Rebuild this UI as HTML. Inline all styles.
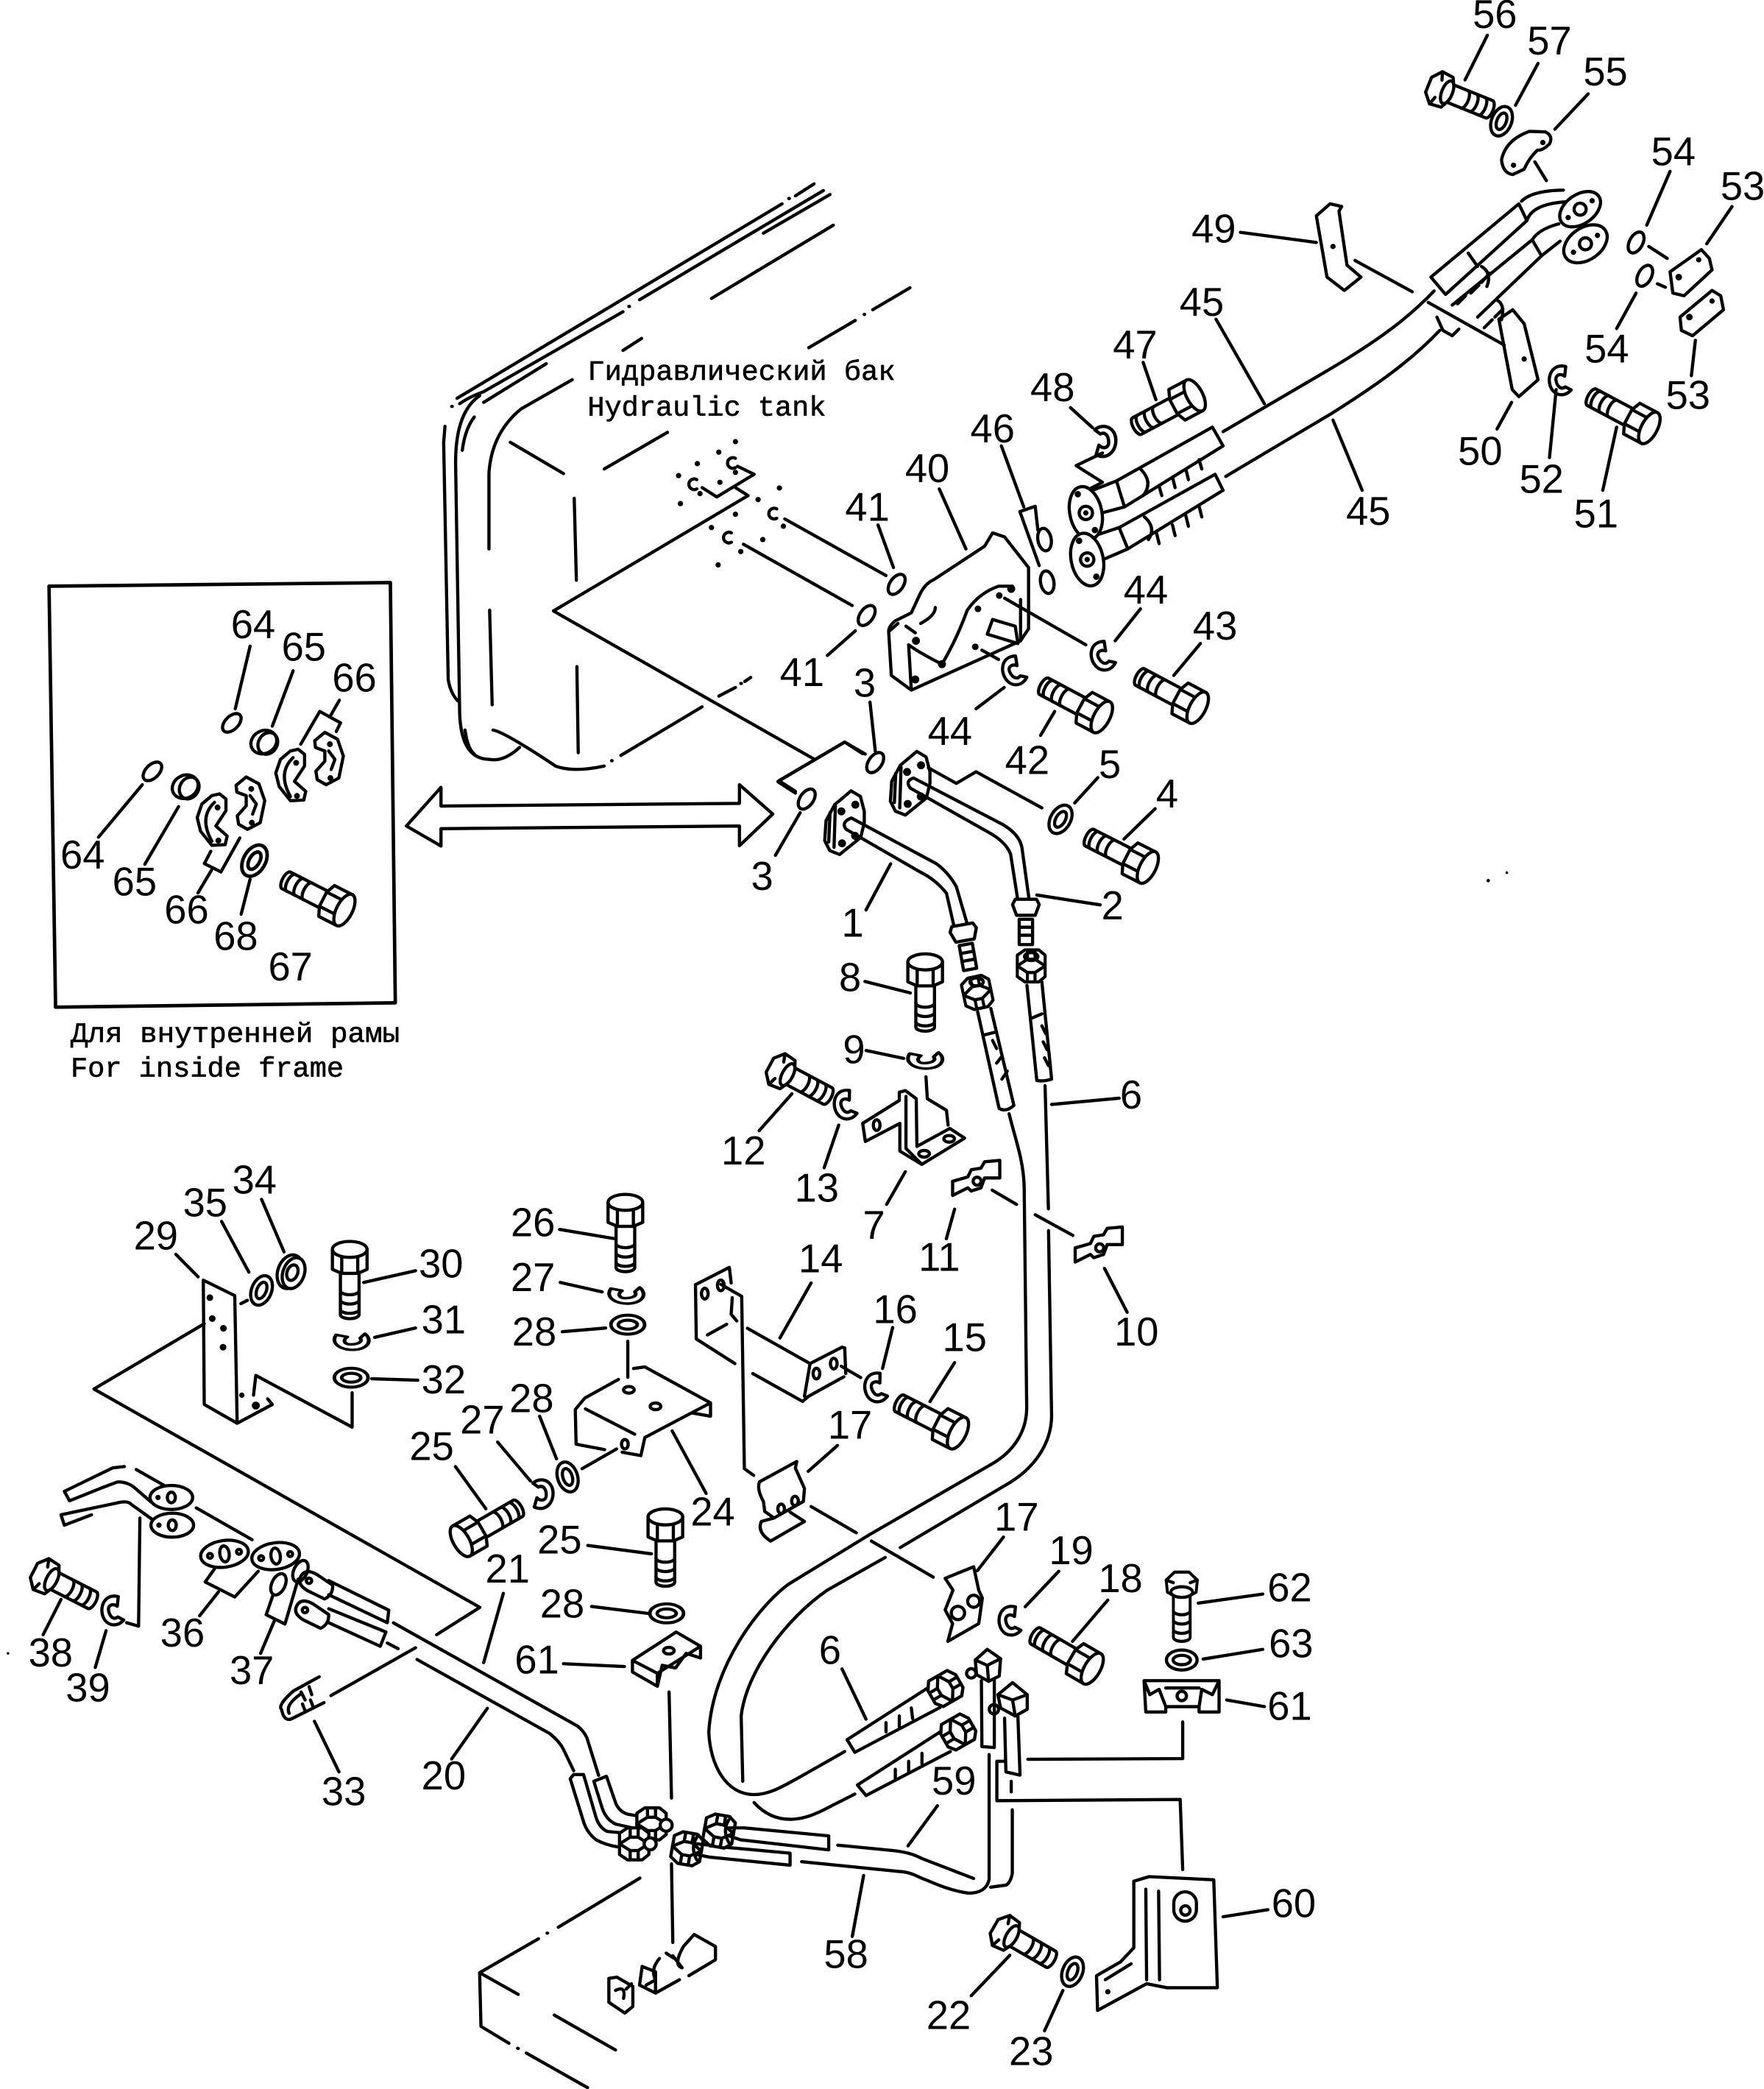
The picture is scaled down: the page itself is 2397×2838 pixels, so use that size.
<!DOCTYPE html>
<html><head><meta charset="utf-8"><title>Hydraulic piping diagram</title>
<style>
html,body{margin:0;padding:0;background:#fff}
svg{display:block}
.l{fill:none;stroke:#000;stroke-width:2.4;stroke-linecap:round;stroke-linejoin:round}
.w{fill:#fff;stroke:#000;stroke-width:2.4;stroke-linejoin:round}
.d{fill:#000;stroke:none}
.n text{font-family:"Liberation Sans",sans-serif;font-size:30px;text-anchor:middle;fill:#000}
.m text{font-family:"Liberation Mono","DejaVu Sans Mono",monospace;font-size:21px;fill:#000;stroke:#000;stroke-width:.35}
</style></head><body>
<svg xmlns="http://www.w3.org/2000/svg" width="2397" height="2838" viewBox="0 0 1324 1568" preserveAspectRatio="none">
<rect width="1324" height="1568" fill="#fff"/>
<defs>
<g id="b"><path class="w" d="M4,-7L40,-7A3,7 0 0 1 40,7L4,7Z"/><path class="l" d="M22,-7a3,7 0 0 1 0,14M29,-7a3,7 0 0 1 0,14M36,-7a3,7 0 0 1 0,14"/><path class="w" d="M-9,-13L6,-13L9,-6L9,6L6,13L-9,13Z"/><path class="l" d="M-6,-6L9,-6M-6,6L9,6"/><ellipse class="w" cx="-9" cy="0" rx="6" ry="13"/></g>
<g id="c"><path class="w" d="M4,-7L40,-7A3,7 0 0 1 40,7L4,7Z"/><path class="l" d="M20,-7a3,7 0 0 1 0,14M27,-7a3,7 0 0 1 0,14M34,-7a3,7 0 0 1 0,14"/><path class="w" d="M-9,-6L-3,-13L6,-12L9,-6L9,6L6,12L-3,13L-9,6Z"/><path class="l" d="M-3,-13L-1,-7M-3,13L-1,7"/><ellipse class="w" cx="6" cy="0" rx="4" ry="9"/></g>
<g id="w"><ellipse class="l" rx="7.5" ry="11.5"/><ellipse class="l" rx="3.5" ry="6.5"/></g>
<g id="o"><ellipse class="l" rx="5" ry="8.5" stroke-width="2.8"/></g>
<g id="k"><path class="l" d="M6,-10C-3,-14 -9,-6 -8,2C-7,10 1,13 7,8L3,5C-1,7 -3,3 -3,-1C-3,-5 1,-6 4,-3Z"/></g>
<g id="nut"><path class="w" d="M-11,-8L-5,-12L6,-12L11,-8L11,8L6,12L-5,12L-11,8Z"/><path class="l" d="M-11,0L-3,-5L3,-5L11,0M-3,-12L-3,-5M3,-12L3,-5M-3,12L-3,5M3,12L3,5M-11,0L-3,5L3,5L11,0"/></g>
<g id="fl"><path class="w" d="M620,616L626.5,604L638.8,593.6L645.8,597.8L648.7,609L648.7,617.5L646,628.6L630.2,641.4L622.8,638.5L619,631Z"/><path class="l" d="M623,610L622,632M627,605L626,636"/><circle class="d" cx="631.5" cy="609" r="3"/><circle class="d" cx="642" cy="604" r="3"/><circle class="d" cx="632" cy="633" r="3"/><circle class="d" cx="641.8" cy="627.4" r="3"/></g>
<g id="clip"><path class="l" d="M715,897.3L715,886.7L726.4,883.4L729,878L736.3,876.8L739,872L750.4,871L750.4,884.2L739,884.2L736.3,891.6L729,894L726.4,891.6Z"/><circle class="l" cx="733.4" cy="886.6" r="3"/></g>
<g id="half"><path class="l" d="M223.8,562.4L228.6,566.2L228.6,575L221,586.5L229.5,594L228,600.5L218,601L209.5,590.3L207,580.2L210.5,570L218,563.7Z"/><path class="l" d="M220,568.7Q208,580 218,597.9"/><circle class="d" cx="222.3" cy="572.6" r="2.2"/><circle class="d" cx="222.9" cy="597.4" r="2.2"/>
<path class="l" d="M236.2,556L243.8,549.7L253.3,554.8L257.7,567.5L254.3,584L244.8,589L238.1,585.2L237.1,578.9L243.8,571.3L243.8,563.7L236.8,561.1Z"/><path class="l" d="M246.7,563.7L251.4,570L248.6,577.6"/><circle class="d" cx="247.6" cy="558.6" r="2.2"/><circle class="d" cx="248" cy="584" r="2.2"/>
<g transform="translate(-13,1)"><ellipse class="w" cx="211" cy="556" rx="10" ry="8.5" transform="rotate(-28 211 556)"/><ellipse class="l" cx="214" cy="557" rx="7" ry="8.5" transform="rotate(30 214 557)"/></g></g>
</defs>

<!-- tank -->
<path class="l" d="M343,299L587,153M597,147L611,138M592,149L592.5,149M339,305L339.5,305
M334,320L333,332L336.4,510Q338,520 343.5,526
M347,338Q349,322 356,313M363,294L467.6,234M472,230L472.5,230M480,225L618,143M345,303Q352,298 363,294
M342,351Q341,310 360,297M363,302L410,273M467.6,263L481.6,254M573,175L623,146
M367,412L367,355Q369,325 391,307L429.5,285M453.5,352L501,324.5M534,224L625.5,169M607,261L642,240.5M648.6,236L649,236M655,232.5L683,216
M342,351L345,535Q346,570 367.5,570Q378,572 390,561
M349,548Q351,562 356,566
M370,548Q378,549 417,575Q430,580 453.5,575M459,571L459.5,571M466,567L527,530.5M539.5,522.5L552,516M556,513L556.5,513M559,511.5L563.5,508.5
M367.5,458L369.4,529M431,374L432.6,435.5M433,500.4L434,565M383,332L423,355.5"/>
<path class="l" d="M527,366L538,373L566,356L553.6,350M415.4,458.6L561.5,372L552,366M415.4,458.6L611.4,570M584.6,586L634,557L649.4,566M584.6,586L597,594M589,389.5L665,432M558,408.5L639.6,454.5"/>
<g class="d">
<circle cx="552" cy="331.5" r="2"/><circle cx="539.5" cy="339.4" r="2"/><circle cx="523.4" cy="348" r="2"/><circle cx="509.3" cy="357" r="2"/><circle cx="510.7" cy="378" r="2"/><circle cx="540.3" cy="362" r="2"/><circle cx="552" cy="354.6" r="2"/><circle cx="525.4" cy="370.5" r="2"/><circle cx="585" cy="366.3" r="2"/><circle cx="569" cy="375" r="2"/><circle cx="588" cy="395" r="2"/><circle cx="552" cy="386" r="2"/><circle cx="534" cy="396" r="2"/><circle cx="556" cy="414" r="2"/><circle cx="572.5" cy="405" r="2"/><circle cx="539" cy="424" r="2"/></g>
<path class="l" d="M552,344a4,4 0 1 0 0,7M523,360a4,4 0 1 0 0,7M583,382a4,4 0 1 0 0,7M549,400a4,4 0 1 0 0,7"/>
<use href="#o" transform="translate(673,438.6) rotate(35)"/><use href="#o" transform="translate(650.5,462) rotate(35)"/>
<use href="#o" transform="translate(656.9,572.4) rotate(35)"/><use href="#o" transform="translate(605.5,599.8) rotate(35)"/>

<!-- manifold 40 -->
<path class="l" d="M667,474Q667,470 672,466L684,460L690,447Q694,438 701,435L739,410L745,400L754,403L772,426L772,472L766,481L684,518L669,507Z"/>
<path class="l" d="M667,474L674,468M682,484L684,518M682,484Q690,490 707,498.5Q718,480 726,458Q735,445 749.5,440L760,440M691,468Q702,462 702,456M680,470L687,475M741,476L764,483L762,470L745,465ZM766,450L766,480M754,449L815,484M737,488L749.5,495"/>
<g class="d"><circle cx="687.5" cy="481" r="3"/><circle cx="687" cy="510" r="3"/><circle cx="707" cy="498.5" r="3"/><circle cx="732" cy="485.5" r="2.5"/><circle cx="734" cy="457" r="2.5"/><circle cx="750" cy="447" r="2.5"/><circle cx="759" cy="442" r="3"/></g>

<!-- hoses 45 -->
<path class="l" d="M838,361L910,320.6L918,334.7L844,380.5Z M840,396L912,356L918,368L846.5,412Z"/>
<path class="l" d="M820,368L838,361M827,385L844,380.5M822,402L840,396M828,420L846.5,412M856,352Q866,362 858,372M859,388Q868,396 862,405M870,365L872,372M880,358L882,366M890,352L892,360M900,345L902,352M868,400L870,408M880,394L882,402M890,387L892,395M900,380L902,388"/>
<g transform="translate(815,385) rotate(-12)"><ellipse class="w" rx="12" ry="20"/><circle class="l" r="5"/><circle class="d" r="2"/><circle class="d" cx="-3" cy="-15" r="2.4"/><circle class="d" cx="4" cy="14" r="2.4"/></g>
<g transform="translate(816,420) rotate(-12)"><ellipse class="w" rx="12" ry="20"/><circle class="l" r="5"/><circle class="d" r="2"/><circle class="d" cx="-3" cy="-15" r="2.4"/><circle class="d" cx="4" cy="14" r="2.4"/></g>
<path class="l" d="M918,324L1000,276C1030,258 1055,241 1076.4,218.4M920,357.6L1000,310C1030,291 1058,272 1080.6,248"/>
<path class="l" d="M1074,208L1140,153L1146,165.6L1085,221ZM1090,229L1150,180M1157,192L1109,238M1150,180L1157,192"/>
<path class="l" d="M1142,151Q1150,143 1173.4,142.7M1146,165.6Q1150,153 1175.5,151.5M1150,180Q1155,172 1170,168M1157,192L1171,181M1102,190L1109,200M1112,200Q1120,205 1116,215M1123,225Q1130,228 1127,240"/>
<path class="l" d="M1118,205L1112,212M1110,214L1104,220M1100,222L1094,228M1128,232L1122,238M1120,240L1114,246"/>
<g transform="translate(1186,157) rotate(-35)"><ellipse class="w" rx="17" ry="11"/><circle class="l" r="4.5"/><circle class="d" cx="-11" cy="0" r="2"/><circle class="d" cx="11" cy="0" r="2"/></g>
<g transform="translate(1190,183) rotate(-35)"><ellipse class="w" rx="18" ry="12"/><circle class="l" r="4.5"/><circle class="d" cx="-11" cy="0" r="2"/><circle class="d" cx="11" cy="0" r="2"/></g>
<!-- clamps 49/50 55 53 -->
<path class="l" d="M988,162L996,208L1009,218L1021.5,208L1011,199L1005,158.5L1007,155L998.3,153ZM1125,239.6L1135.4,232.5L1144,243L1154.4,285L1140,297.7L1135,292.4ZM1127,120Q1130,105 1148,98.6L1160,99Q1166,102 1163,108Q1158,113 1154,112.7Q1148,118 1144,127L1135.4,131Q1128,130 1127,120ZM1253.5,204L1277,187.4L1283,194L1285,202.6L1264,222L1255.6,220ZM1261,238L1285,218L1291.5,222L1293.6,232.5L1270.4,252L1262,248ZM1078.5,238L1083,248L1090,252L1095,247"/>
<g class="d"><circle cx="1000.5" cy="185" r="2"/><circle cx="1144" cy="269.5" r="2"/><circle cx="1136" cy="124" r="2"/><circle cx="1158" cy="107" r="2"/><circle cx="1260" cy="208" r="2.5"/><circle cx="1275" cy="195" r="2"/><circle cx="1268" cy="238" r="2.5"/><circle cx="1285" cy="226" r="2"/></g>
<use href="#o" transform="translate(1228,182) rotate(28)"/><use href="#o" transform="translate(1234.5,207) rotate(28)"/>
<use href="#w" transform="translate(1127,91) rotate(22)"/><use href="#k" transform="translate(829,331) scale(1.05) rotate(180)"/><use href="#k" transform="translate(827.5,493) rotate(-25)"/><use href="#k" transform="translate(761,504) rotate(-25)"/><use href="#k" transform="translate(1171,286) rotate(-10)"/>
<use href="#c" transform="translate(1080.6,67) rotate(22)"/><use href="#b" transform="translate(888.7,301) rotate(152)"/><use href="#b" transform="translate(1230,317) rotate(208)"/><use href="#b" transform="translate(891,527) rotate(208)"/><use href="#b" transform="translate(819,534) rotate(208)"/><use href="#b" transform="translate(853.5,647) rotate(207)"/>
<path class="l" d="M765.5,384L780,424.5M765.5,384L777,380L779,398M827.5,340L807.7,349.5L827.5,362L819,366.4"/>
<use href="#o" transform="translate(784,405) rotate(-10)"/><use href="#o" transform="translate(786,437) rotate(-10)"/>

<!-- leaders top right -->
<path class="l" d="M1116.4,26.4L1099.6,60M1154.4,47.6L1137.5,79M1192,70.5L1167,97M1152,121.5L1160.7,135.6M1253.5,128.6L1236,169M1300,155L1281,183M1237.5,185L1251.4,194M1244,213L1250,215.6M1228,220L1213.4,246.6M1272.5,255.4L1269.5,282M1134.6,302L1123.6,322M1168,292.4L1163,343.5M1213.4,320.6L1203,368M931,174.4L988,182M1017,195.5L1060,219M1072,227L1129,259M912.7,239.6L949,303M1000.5,315.3L1022.4,368M858,272L867.6,300M803.5,306L820,321M751.6,334.7L768.4,380.5M856,457L837,481M901,483L881,507M753.7,516L732.6,532M791.6,534L781,552M659,394L670.6,426M621,492L642,473.5M653,527L657,564M705,367L725,412"/>

<!-- pipes 1 2 -->
<use href="#fl"/><use href="#fl" transform="translate(49.3,-29.6)"/>
<path class="l" d="M639,614L703,648.4Q712,655 717.8,665.6L726.4,695M635,622.4L690.6,654.5Q702,660 710.4,670.5L716.6,697.7M639,614Q631,617 635,622.4
M685.7,584L752.3,618.7Q765,626 767,636L772.8,678M683.3,591.6L742.5,625Q755,632 758.5,641L764.7,680.4M685.7,584Q679,586 683.3,591.6
M696.8,576.3L717.8,588L732.6,579.3L782,606.4M647.5,565.7L634,557L583.8,586.7L597,595.3M668.5,648.4L650,683M778.2,671.8L825.8,679.2M600.6,610L582,642M824,583.7L806.6,602.7M867,607L843.6,629.8M649.2,736.7L683.3,745.3M650,788.5L678.3,794.4M594.4,821L569.8,848.7M629.5,844.5L618.6,876.5M679.5,879.5L665.5,904M789.3,829L840,824.3"/>
<g transform="translate(724,704) rotate(-10)"><path class="w" d="M-5,5L5,5L5,24L-5,24Z"/><path class="l" d="M-5,11L5,11M-5,17L5,17"/><path class="w" d="M-10,-6L-7,2L7,2L10,-6L8,-10L-8,-10Z"/></g>
<g transform="translate(770,685)"><path class="w" d="M-5,5L5,5L5,24L-5,24Z"/><path class="l" d="M-5,11L5,11M-5,17L5,17"/><path class="w" d="M-10,-6L-7,2L7,2L10,-6L8,-10L-8,-10Z"/></g>
<!-- hoses 6 top -->
<path class="l" d="M733.8,759.4L749.9,832Q755,835 761,829.7L743.7,757M770.8,739.6L778.2,811Q783,812 789.3,810L782,737M738,777L746,775M775,764L782,761M748,787L745,781M748,798L752,793M752,810L756,804M785,776L782,770M786,788L783,782M787,800L784,794"/>
<use href="#nut" transform="translate(733.5,745) rotate(-12) scale(.95,1)"/><ellipse class="l" cx="733" cy="737" rx="5" ry="3"/>
<use href="#nut" transform="translate(774,725) scale(.95,1)"/><ellipse class="l" cx="774" cy="718" rx="5" ry="3"/>
<path class="l" d="M757.4,836C762,855 768,870 768.7,890L770.6,1055.6C771,1075 760,1090 744.7,1098.7L653,1151.7L592,1189C570,1205 535,1250 532,1300C533,1325 545,1347 566,1347C578,1347 589,1340 600,1334L634,1314.7
M784.4,814.9L786.9,907.4M787,923.7L789.3,1063C789,1085 775,1102 758.8,1112.3L675.7,1161.6M664.4,1169L620.7,1193.7C590,1215 560,1255 556.3,1288L557.5,1337M566,1353C575,1363 585,1366 595,1365.5C604,1365 612,1362 625,1355L641.6,1346.6M744.7,893.3L763,904M777,911.8L805.3,927.3"/>
<!-- bolt 8 etc -->
<use href="#b" transform="translate(694.4,731) rotate(90)"/><use href="#k" transform="translate(694.8,795.6) rotate(-90) scale(.8,1.2)"/><use href="#c" transform="translate(585.8,803.8) rotate(28)"/><use href="#k" transform="translate(634.4,829.7) rotate(-15)"/>
<use href="#w" transform="translate(796,615) rotate(30)"/>
<path class="l" d="M647.5,843.2L675,826L675,819.8L679.6,818.6L687.7,824.7L688.2,860.5L712.9,847L724,854.3L691.9,874L675.4,864L675.4,843.2M647.5,843.2L649.5,856.8L675.4,843.2M680,823L680,862L691.9,874M695,808.2L696,824.7L710.4,833.4L711.6,844.5"/>
<ellipse class="l" cx="658" cy="844.5" rx="2.5" ry="4"/><ellipse class="l" cx="712.4" cy="854.8" rx="4" ry="2.5"/><ellipse class="l" cx="693.6" cy="866" rx="4" ry="2.5"/>
<use href="#clip"/><use href="#clip" transform="translate(92,50)"/>
<path class="l" d="M716.5,907.6L710.3,929.8M829,952L846,985"/>

<!-- bracket 14 -->
<path class="l" d="M522,964.3L547.4,951.3L548.8,963M541,964L556.7,973L558.7,1102.4L565.7,1107.4M522,964.3L522.6,1005L551.6,1023.5M565,1031L602.4,1051.9L606.6,1048.2L633.4,1033.4M561,997L608,1023.5L632,1011.2L634,1011.7L634.8,1031M608,1023.5L603.8,1048M531,1002L545.4,994M549.6,974L548.8,986.5L553,991.5M608.8,963L585.4,1004.3M670,996.4L662.4,1027.2M631.4,1025.5L646,1034M716.5,1022.8L698,1052"/>
<ellipse class="l" cx="529" cy="971" rx="2.5" ry="4"/><ellipse class="l" cx="541" cy="964.8" rx="2.5" ry="4"/><ellipse class="l" cx="612.8" cy="1031" rx="2.5" ry="4"/><ellipse class="l" cx="625.8" cy="1023.5" rx="2.5" ry="4"/>
<use href="#k" transform="translate(657.3,1042) rotate(-15)"/><use href="#b" transform="translate(711,1071.6) rotate(207)"/>
<!-- clamp 17 upper -->
<path class="l" d="M570,1112.3L598,1097L597,1102L603.8,1117.2L603,1127L581,1139.4L574,1134.5L573,1127Q568,1118 570,1112.3ZM593,1135L603.8,1142L578.4,1156.7Q568,1150 571.4,1142L581,1139.4M628.6,1085L606.6,1104.4M608.8,1130.8L642.7,1150.5M654,1156.7L700.5,1183.8"/>
<ellipse class="l" cx="586.3" cy="1132.5" rx="2.5" ry="3.5"/><ellipse class="l" cx="596.7" cy="1126.6" rx="2.5" ry="3.5"/>
<!-- clamp 17 lower -->
<path class="l" d="M709.4,1184.7L730.8,1176L734.6,1193.6L737.3,1199.5L734.6,1218.7L711.4,1232L715,1218.7L709.4,1208.4L715.3,1193.6ZM753.2,1153.7L733.5,1179M794.7,1179.4L769.5,1206M831.5,1201L805,1232"/>
<circle class="w" cx="719" cy="1210.7" r="5"/><circle class="w" cx="730.8" cy="1201.9" r="4.5"/>
<use href="#k" transform="translate(758,1217) rotate(-10)"/><use href="#b" transform="translate(812,1248) rotate(210)"/>
<use href="#c" transform="translate(887,1189) rotate(90) scale(1,.9)"/><use href="#w" transform="translate(887,1246) rotate(90)"/>
<path class="l" d="M947.8,1196.5L899.4,1203.3M947.8,1238L903,1245.3M920.7,1276L949,1281"/>
<path class="l" d="M858.7,1261.5L915,1261.5L915,1285L900,1285L900,1281L875,1281L875,1285L860,1285ZM858.7,1261.5L863,1272L870,1268L875,1281M915,1261.5L910,1272L902,1268L900,1281M875,1267L900,1267"/>
<circle class="l" cx="887" cy="1273" r="3.5"/>
<path class="l" d="M887.7,1292.5L887.7,1320L771.5,1320.5M754,1322L748.2,1322L748.2,1351.6L885.8,1350.7L887.7,1403.3M918,1438.7L951.7,1433.4"/>
<!-- 60 -->
<path class="l" d="M851,1412L862.5,1408.6L911,1411L913.7,1492L876,1492L860.6,1489L823.8,1509L823,1483L841,1472.6L851,1462ZM860,1418L860.6,1486M869.6,1419.5L870.3,1486M829.6,1486L849,1474"/>
<rect class="l" x="881" y="1420" width="17" height="22" rx="8.5"/><circle class="l" cx="889.7" cy="1434" r="3.5"/><circle class="d" cx="831.5" cy="1495" r="2"/>
<use href="#c" transform="translate(754,1450.5) rotate(30)"/><use href="#w" transform="translate(805,1480) rotate(22)"/>
<path class="l" d="M758,1467.6L729,1498M797.8,1494L784,1524.3M703.6,1355.4L681.5,1385.5M648.2,1407.7L639.7,1453.5M632,1252.7L650,1290.4"/>
<!-- lower hoses -->
<path class="l" d="M635.8,1305.8L697.8,1266M641.6,1315.3L705.6,1281.6M635.8,1305.8L641.6,1315.3M643.6,1339.8L705.6,1300M650,1347.7L713.3,1314.7M643.6,1339.8L650,1347.7M665,1300L665,1293M675,1296L675,1288M685,1290L684,1282M672,1335L672,1328M682,1330L682,1322M692,1324L692,1316"/>
<use href="#nut" transform="translate(709.4,1267.4) rotate(60)"/><use href="#nut" transform="translate(719,1300) rotate(60)"/>
<path class="w" d="M732,1246L741,1238L751,1245L750,1258L742,1262L733,1257Z"/><path class="l" d="M741,1250L732,1246M741,1250L751,1245M741,1250L742,1262M736.6,1261.5L737,1311M746.3,1261L746.3,1311.7L737,1311"/>
<circle class="l" cx="729" cy="1256" r="3.5"/>
<path class="w" d="M749,1272L760,1263L771,1272L771,1283L762,1288L751,1282Z"/><path class="l" d="M760,1276L749,1272M760,1276L771,1272M760,1276L762,1288M754,1289.6L755,1330L765.6,1332.4L764,1288"/>
<circle class="l" cx="746" cy="1283" r="3.5"/>
<path class="l" d="M742.4,1317L742.4,1410.6C741,1418 735,1421 727,1421C712,1419 700,1413 690,1409C684,1406 680,1405 674.6,1404.7L601.7,1397.4M759.8,1358.4L759.8,1406C759,1411 757,1414 755,1415L743.5,1416.5M759,1337L759,1345M628.8,1385L670,1389C680,1390 686,1392 692,1395L730.8,1410"/>
<path class="l" d="M558.3,1372L622,1378L622,1388.5L556.3,1381M533,1385.5L593,1391L593,1400L533,1394"/>
<use href="#nut" transform="translate(539.7,1374.3) rotate(10)"/><path class="l" d="M547,1366Q542,1374 547,1383M547,1372L558,1372M547,1378L556,1381"/>
<use href="#nut" transform="translate(515.6,1387.6) rotate(10)"/><path class="l" d="M523,1379Q518,1387 523,1396M523,1384L533,1385M523,1392L533,1394"/>
<!-- pipes 20 21 -->
<path class="l" d="M295.3,1218.1L433.5,1295.6Q438,1299 440.5,1304.4L449.3,1332.6M290.7,1233.2L298.8,1237.5M313,1245.6L412.3,1301Q420,1307 423,1313.3L430.6,1329.1"/>
<path class="l" d="M428,1335.1L430.5,1332L438,1332L447.5,1364.6Q450,1372 455.8,1374.7L470,1376M428,1335.1L438.3,1368.3Q441,1376 447.5,1381Q455,1385 464,1386.3M445.7,1337L455.2,1333.3L462.2,1353.6Q465,1360 471.4,1361.8L482.5,1363.7M445.7,1337L452,1357.2Q455,1366 462.2,1369.2L482.5,1373.8"/>
<use href="#nut" transform="translate(489,1369)"/><circle class="w" cx="500" cy="1370" r="4.5"/>
<use href="#nut" transform="translate(476,1384)"/><circle class="w" cx="488" cy="1384" r="4.5"/>
<path class="l" d="M502.2,1270L504,1349.6M504,1399L505,1458M480.3,1409.7L419,1446.6M410.6,1451L411,1451M404.2,1455.2L360,1480.7L361,1521L382,1533.7M388.5,1537.4L389,1537.6M395,1541L441,1567M360,1480.7L389,1497M416,1512.5L462,1538.7"/>
<path class="l" d="M513,1461L521,1452L537,1461L537,1471L517,1483M513,1461Q505,1475 512,1477M512,1477L505,1468M495,1470Q488,1478 492,1486L485,1490M482,1476L492,1480L492,1496M482,1476L480,1490L492,1496L510,1486M500,1466L506,1470"/>
<path class="l" d="M457,1485L463,1484L475,1491L475,1506L469,1511L457,1503ZM462,1494Q470,1490 468,1500M470,1493L474,1489"/>
<!-- left: bracket 29 -->
<path class="l" d="M152.6,960.9L176.2,972.5L178,1068.3L204.4,1054.2L200.9,1050M152.6,960.9L153.3,1054.2L178,1068.3M190.3,1047.2L192,1032.4L264.3,1071.2L264.3,1045.4M132,941.5L148.7,958.4M166.3,916.8L186.8,954.9M196.3,900.2L213.2,939.7M180.8,978.5L185.7,976M273,962.6L311.9,953.8M281.2,1003.8L311.9,996.8M279,1034.9L313.6,1036M420,922.8L461.6,929.8M420.4,962.6L452,969.7M422,999.6L454.6,996.8M471.2,1006.7L471.2,1033.8"/>
<g class="d"><circle cx="157.5" cy="974" r="2.5"/><circle cx="159.3" cy="989.7" r="2.5"/><circle cx="167.7" cy="997" r="2.5"/><circle cx="167.4" cy="1011.2" r="2.5"/><circle cx="192" cy="1055" r="3"/><circle cx="181.5" cy="1047.2" r="2"/></g>
<use href="#w" transform="translate(196.3,968.6) rotate(22)"/><g transform="translate(218.5,954.9) rotate(20)"><ellipse class="w" rx="9" ry="13" transform="translate(-1,0)"/><ellipse class="w" rx="8" ry="12" cx="2"/><ellipse class="l" rx="4" ry="6" cx="1"/></g>
<use href="#b" transform="translate(262.5,946.8) rotate(90)"/><use href="#k" transform="translate(264.3,1006.7) rotate(-90) scale(.8,1.2)"/><use href="#w" transform="translate(263.6,1034.1) rotate(90) scale(.95,1.1)"/>
<use href="#b" transform="translate(469.4,911.5) rotate(90)"/><use href="#k" transform="translate(470.5,972) rotate(-90) scale(.8,1.2)"/><use href="#w" transform="translate(471.2,994.3) rotate(90) scale(.95,1.1)"/>
<!-- block 24 -->
<path class="l" d="M464.2,1035.4L438.9,1049.4L431.8,1058L432.4,1084L453.8,1088.1M475.5,1027.2L484,1026L533.3,1053L533.3,1063L519.2,1060.5M533.3,1053L484,1079L481,1092.6L467,1090M439.4,1057.5L476.4,1076.5M462.8,1087.6L436.9,1102.4M405,1063L417.7,1095M504.5,1074L530,1121M373.5,1082.4L398.2,1111.7M341.8,1100.8L364.7,1132.5"/>
<ellipse class="l" cx="472" cy="1043.2" rx="4" ry="2.5"/><ellipse class="l" cx="492" cy="1055.6" rx="4" ry="2.5"/><ellipse class="l" cx="469" cy="1084" rx="2.5" ry="3.5"/>
<use href="#w" transform="translate(426,1108.6) rotate(-18)"/><use href="#k" transform="translate(407,1121.2) rotate(180)"/><use href="#b" transform="translate(354,1152.2) rotate(-30)"/>
<use href="#b" transform="translate(499.4,1147.6) rotate(90)"/><use href="#w" transform="translate(500.4,1211) rotate(90) scale(.95,1.1)"/>
<path class="l" d="M441.2,1160L489,1166.3M444,1205.8L486.3,1211M422.9,1248.8L468.7,1250.9"/>
<path class="l" d="M474.7,1246.3L507.5,1225L525.8,1235.7L525.8,1244.5L515,1241L507,1252L497,1250L493.4,1265.7L474.7,1255ZM474.7,1246.3L493.4,1256L493.4,1265.7M493.4,1256L525.8,1235.7"/>
<ellipse class="l" cx="502" cy="1239" rx="4" ry="2.5"/>
<!-- long bracket lower-left -->
<path class="l" d="M153.3,993.6L70.5,1042.6L360.2,1206.5L327.7,1227M248.4,1272.7L311.9,1236.8M236,1292L254.4,1330M365.8,1282.2L339,1320.3M377.8,1196L363,1248"/>
<path class="l" d="M239.6,1258.6L220.3,1269.2Q208,1280 211.4,1283.3Q213,1292 218.5,1290.3L243.2,1278M225,1272Q214,1280 217,1286"/>
<path class="l" d="M229,1276L226,1270M234,1272L232,1266M229,1284L227,1279M235,1281L233,1276"/>
<g transform="translate(238,1190) rotate(30)"><path class="w" d="M-14,0Q-14,-7 -4,-7L10,-6Q14,0 10,6L-4,7Q-14,7 -14,0Z"/><circle class="l" cx="-7" r="2"/></g>
<g transform="translate(235,1212) rotate(30)"><path class="w" d="M-14,0Q-14,-7 -4,-7L10,-6Q14,0 10,6L-4,7Q-14,7 -14,0Z"/><circle class="l" cx="-7" r="2"/></g>
<path class="l" d="M246.7,1186.4L291.8,1208.6L290.7,1218L246.7,1197M246.7,1207.5L289.7,1225L285.4,1235.7L246.7,1218"/>
<!-- pipes 36 group -->
<path class="l" d="M48.3,1119.4L84.6,1101.8L93.4,1100.8M102.2,1103L123.3,1115M48.3,1119.4L52.2,1126.5L75.8,1117M75.8,1117L88,1112.4Q96,1112 102.2,1117.7L113.5,1127.5M45.8,1137L87.4,1128.2Q96,1126 98.7,1129.3L114.5,1140.6M45.8,1137L48.3,1144.8L68.7,1137M147.3,1131.8L189.2,1155.7M105,1139.5L104,1220.6L95,1218"/>
<g transform="translate(128.6,1124)"><ellipse class="w" rx="16" ry="9"/><ellipse class="l" rx="3" ry="4"/><circle class="d" cx="-10" r="2"/></g>
<g transform="translate(129.3,1144.8)"><ellipse class="w" rx="16" ry="9"/><ellipse class="l" rx="3" ry="4"/><circle class="d" cx="-10" r="2"/></g>
<g transform="translate(168.5,1166.3) rotate(-8)"><ellipse class="w" rx="18" ry="10"/><ellipse class="l" rx="3.5" ry="6"/><circle class="l" cx="-11" r="1.8"/><circle class="l" cx="11" r="1.8"/></g>
<g transform="translate(206.9,1168) rotate(-8)"><ellipse class="w" rx="18" ry="10"/><ellipse class="l" rx="3.5" ry="6"/><circle class="l" cx="-11" r="1.8"/><circle class="l" cx="11" r="1.8"/></g>
<path class="l" d="M161,1177.6L154,1187.4L176.2,1198.7L193.8,1179.4M163.9,1195L149.8,1212.8M205,1197L199.8,1212L213.9,1219L223.8,1185.3M206,1216.4L195.6,1241M45.8,1200.5L32.4,1227M79.6,1224L71.5,1251.6"/>
<use href="#o" transform="translate(209,1189.2) rotate(25)"/><use href="#o" transform="translate(225.5,1179.3) rotate(25)"/>
<use href="#c" transform="translate(33.5,1182.9) rotate(27)"/><use href="#k" transform="translate(84.6,1209.3) rotate(-10)"/>
<circle class="d" cx="6" cy="1241" r="1"/><circle class="d" cx="1117" cy="661" r="1.3"/><circle class="d" cx="1131" cy="655" r="1"/>

<!-- arrow -->
<path class="l" d="M305,620L331,591L331,605L555,603L555,589L580,611L555,634.8L555,620L331,622L331,635Z"/>

<!-- inset -->
<path class="l" style="stroke-width:2.6" d="M36.8,440L293,437.3L296.7,752.7L41.7,756Z"/>
<use href="#o" transform="translate(174,542.6) rotate(45)"/><use href="#o" transform="translate(114.4,579) rotate(45)"/>
<use href="#half"/><use href="#half" transform="translate(-59,33.5)"/>
<use href="#w" transform="translate(191,646) rotate(30) scale(1.1)"/><use href="#b" transform="translate(250.5,679) rotate(207)"/>
<path class="l" d="M187.7,485L176.6,532M220,503.5L204.4,545M254.7,525.6L248.2,537M225.7,558.6L240,534L255.6,542.6L252.4,549M158.2,639L153.4,648.2L165.8,654.5L180,629M158.7,653.2L148.6,670.2M106.8,589L73.9,628.4M134,605.5L108.7,648.7M187.7,660L181,686.2"/>

<!-- mono text -->
<g class="m">
<text x="441" y="285" textLength="231" lengthAdjust="spacingAndGlyphs">Гидравлический бак</text>
<text x="441" y="312" textLength="179" lengthAdjust="spacingAndGlyphs">Hydraulic tank</text>
<text x="53" y="782" textLength="247" lengthAdjust="spacingAndGlyphs">Для внутренней рамы</text>
<text x="53" y="808" textLength="205" lengthAdjust="spacingAndGlyphs">For inside frame</text>
</g>

<!-- labels -->
<g class="n">
<text x="1122" y="21">56</text><text x="1163" y="41">57</text><text x="1205" y="64">55</text><text x="1256" y="124">54</text><text x="1308" y="150">53</text><text x="911" y="182">49</text><text x="902" y="237">45</text><text x="852" y="269">47</text><text x="790" y="301">48</text><text x="745" y="332">46</text><text x="696" y="362">40</text><text x="651" y="391">41</text><text x="860" y="453">44</text><text x="912" y="480">43</text><text x="1206" y="272">54</text><text x="1267" y="307">53</text><text x="1111" y="349">50</text><text x="1157" y="370">52</text><text x="1198" y="396">51</text><text x="1027" y="394">45</text><text x="649" y="523">3</text><text x="602" y="515">41</text><text x="713" y="559">44</text><text x="771" y="581">42</text><text x="833" y="584">5</text><text x="876" y="606">4</text><text x="572" y="668">3</text><text x="640" y="703">1</text><text x="835" y="690">2</text>
<text x="190" y="479">64</text><text x="228" y="496">65</text><text x="266" y="519">66</text><text x="62" y="652">64</text><text x="101" y="672">65</text><text x="140" y="693">66</text><text x="177" y="713">68</text><text x="218" y="736">67</text>
<text x="638" y="744">8</text><text x="641" y="798">9</text><text x="849" y="832">6</text><text x="558" y="874">12</text><text x="613" y="902">13</text><text x="656" y="930">7</text><text x="705" y="954">11</text><text x="853" y="1010">10</text><text x="616" y="955">14</text><text x="400" y="928">26</text><text x="400" y="969">27</text><text x="401" y="1010">28</text><text x="672" y="993">16</text><text x="724" y="1014">15</text><text x="191" y="896">34</text><text x="154" y="913">35</text><text x="117" y="938">29</text><text x="331" y="959">30</text><text x="333" y="1001">31</text><text x="333" y="1046">32</text><text x="399" y="1060">28</text><text x="362" y="1076">27</text><text x="324" y="1096">25</text><text x="535" y="1145">24</text><text x="638" y="1080">17</text><text x="763" y="1149">17</text><text x="420" y="1166">25</text><text x="804" y="1174">19</text><text x="841" y="1195">18</text><text x="968" y="1202">62</text><text x="969" y="1244">63</text><text x="968" y="1291">61</text><text x="381" y="1188">21</text><text x="422" y="1214">28</text><text x="403" y="1256">61</text><text x="137" y="1236">36</text><text x="189" y="1264">37</text><text x="38" y="1251">38</text><text x="66" y="1277">39</text><text x="258" y="1355">33</text><text x="333" y="1343">20</text><text x="623" y="1249">6</text><text x="716" y="1347">59</text><text x="635" y="1477">58</text><text x="971" y="1439">60</text><text x="712" y="1523">22</text><text x="774" y="1550">23</text>
</g>
</svg>
</body></html>
